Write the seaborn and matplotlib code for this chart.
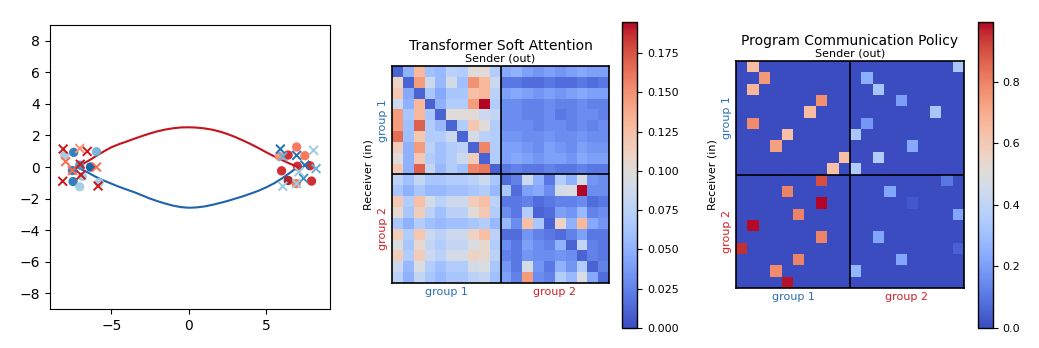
import numpy as np
import pandas as pd
import seaborn as sns
import matplotlib.pyplot as plt

# ---- panel 1: trajectories between the two clusters ----
red_x = [-7.2, -6.5, -6, -5.5, -5, -4.5, -4, -3.5, -3, -2.5, -2, -1.5, -1, -0.5, 0,
         0.5, 1, 1.5, 2, 2.5, 3, 3.5, 4, 4.5, 5, 5.5, 6, 6.5, 7]
red_y = [0.0, 0.38, 0.68, 0.98, 1.25, 1.45, 1.62, 1.8, 1.97, 2.13, 2.27, 2.38, 2.46, 2.51, 2.52,
         2.5, 2.45, 2.37, 2.25, 2.09, 1.9, 1.68, 1.45, 1.2, 0.93, 0.68, 0.45, 0.22, 0.02]
blue_x = [-7.2, -6.5, -6, -5.5, -5, -4.5, -4, -3.5, -3, -2.5, -2, -1.5, -1, -0.5, 0,
          0.5, 1, 1.5, 2, 2.5, 3, 3.5, 4, 4.5, 5, 5.5, 6, 6.5, 7]
blue_y = [0.0, -0.35, -0.62, -0.85, -1.05, -1.25, -1.43, -1.6, -1.8, -2.0, -2.17, -2.32, -2.45, -2.54, -2.58,
          -2.56, -2.5, -2.4, -2.28, -2.15, -2.0, -1.85, -1.68, -1.5, -1.28, -1.03, -0.72, -0.38, 0.0]

# circles (agents) and crosses (goals), shade = colour name
circ_x = [-8.0, -7.42, -5.95, -7.5, -7.03, -6.86, -6.34, -7.46, -7.03, -5.78,
          6.95, 5.83, 6.4, 7.48, 7.81, 7.0, 5.98, 6.41, 6.92, 7.91]
circ_y = [0.74, 0.93, 0.97, -0.22, 0.12, -0.6, 0.0, -0.92, -1.25, -0.98,
          1.27, 0.68, 0.76, 0.72, 0.08, 0.05, -0.24, -0.85, -1.05, -0.89]
circ_shade = ['b4', 'b1', 'b3', 'b1', 'b2', 'b4', 'b0', 'b1', 'b4', 'b4',
              'r3', 'r4', 'r1', 'r3', 'r1', 'r1', 'r1', 'r0', 'r3', 'r1']
cross_x = [-8.1, -7.03, -6.55, -7.94, -7.5, -7.0, -6.95, -5.95, -8.13, -5.85,
           5.9, 6.05, 6.95, 8.04, 7.48, 8.2, 7.1, 7.4, 6.95, 6.06]
cross_y = [1.14, 1.18, 0.99, 0.34, -0.22, 0.18, -0.5, 0.0, -0.9, -1.2,
           1.14, 0.66, 0.74, 1.06, 0.12, -0.1, -0.3, -0.72, -1.05, -1.22]
cross_shade = ['r1', 'r4', 'r1', 'r3', 'r3', 'r1', 'r1', 'r3', 'r1', 'r1',
               'b1', 'b3', 'b1', 'b4', 'b1', 'b3', 'b4', 'b2', 'b4', 'b4']
shades = {'b0': '#08519c', 'b1': '#2171b5', 'b2': '#4292c6', 'b3': '#6baed6', 'b4': '#9ecae1',
          'r0': '#a50f15', 'r1': '#cb181d', 'r2': '#ef3b2c', 'r3': '#fb6a4a', 'r4': '#fc9272'}

# ---- panel 2: soft attention, four 10x10 blocks ----
att_g1_g1 = [
    [0.010, 0.050, 0.130, 0.060, 0.055, 0.075, 0.070, 0.100, 0.100, 0.070],
    [0.110, 0.010, 0.145, 0.085, 0.055, 0.090, 0.060, 0.150, 0.130, 0.085],
    [0.120, 0.045, 0.010, 0.065, 0.045, 0.065, 0.065, 0.125, 0.130, 0.075],
    [0.085, 0.050, 0.130, 0.010, 0.050, 0.070, 0.070, 0.145, 0.195, 0.070],
    [0.145, 0.065, 0.130, 0.065, 0.010, 0.100, 0.100, 0.100, 0.085, 0.080],
    [0.145, 0.060, 0.170, 0.070, 0.055, 0.010, 0.070, 0.120, 0.100, 0.070],
    [0.165, 0.060, 0.120, 0.070, 0.070, 0.085, 0.010, 0.090, 0.075, 0.070],
    [0.115, 0.050, 0.145, 0.075, 0.060, 0.070, 0.075, 0.010, 0.155, 0.070],
    [0.100, 0.050, 0.120, 0.070, 0.060, 0.070, 0.085, 0.115, 0.010, 0.070],
    [0.120, 0.050, 0.170, 0.080, 0.055, 0.070, 0.060, 0.155, 0.160, 0.010],
]
att_g1_g2 = [
    [0.045, 0.050, 0.040, 0.035, 0.040, 0.035, 0.040, 0.045, 0.040, 0.040],
    [0.020, 0.020, 0.015, 0.015, 0.020, 0.015, 0.015, 0.020, 0.015, 0.020],
    [0.040, 0.045, 0.040, 0.035, 0.040, 0.035, 0.040, 0.045, 0.040, 0.040],
    [0.030, 0.030, 0.025, 0.025, 0.030, 0.025, 0.025, 0.030, 0.025, 0.025],
    [0.030, 0.030, 0.025, 0.025, 0.030, 0.020, 0.025, 0.030, 0.030, 0.025],
    [0.030, 0.030, 0.030, 0.025, 0.030, 0.030, 0.025, 0.030, 0.025, 0.030],
    [0.035, 0.035, 0.030, 0.030, 0.035, 0.030, 0.030, 0.035, 0.030, 0.030],
    [0.040, 0.040, 0.035, 0.030, 0.040, 0.035, 0.030, 0.040, 0.035, 0.035],
    [0.040, 0.045, 0.040, 0.035, 0.040, 0.040, 0.035, 0.045, 0.040, 0.040],
    [0.020, 0.025, 0.020, 0.020, 0.025, 0.020, 0.020, 0.025, 0.020, 0.020],
]
att_g2_g1 = [
    [0.075, 0.060, 0.080, 0.065, 0.065, 0.070, 0.070, 0.075, 0.085, 0.065],
    [0.065, 0.050, 0.065, 0.055, 0.055, 0.060, 0.060, 0.065, 0.070, 0.055],
    [0.120, 0.070, 0.125, 0.090, 0.075, 0.085, 0.085, 0.115, 0.125, 0.075],
    [0.105, 0.065, 0.115, 0.075, 0.060, 0.075, 0.075, 0.100, 0.120, 0.070],
    [0.065, 0.050, 0.070, 0.060, 0.055, 0.060, 0.060, 0.065, 0.070, 0.055],
    [0.115, 0.070, 0.120, 0.085, 0.075, 0.085, 0.085, 0.110, 0.125, 0.075],
    [0.095, 0.065, 0.105, 0.080, 0.070, 0.080, 0.080, 0.095, 0.105, 0.070],
    [0.115, 0.070, 0.115, 0.085, 0.075, 0.090, 0.090, 0.110, 0.105, 0.075],
    [0.085, 0.055, 0.095, 0.070, 0.060, 0.070, 0.070, 0.090, 0.095, 0.065],
    [0.075, 0.050, 0.080, 0.065, 0.055, 0.065, 0.065, 0.075, 0.080, 0.060],
]
att_g2_g2 = [
    [0.015, 0.025, 0.085, 0.050, 0.020, 0.070, 0.050, 0.090, 0.035, 0.030],
    [0.065, 0.015, 0.040, 0.045, 0.030, 0.090, 0.095, 0.195, 0.030, 0.030],
    [0.020, 0.020, 0.025, 0.015, 0.020, 0.025, 0.025, 0.030, 0.015, 0.020],
    [0.030, 0.020, 0.070, 0.010, 0.015, 0.040, 0.035, 0.055, 0.025, 0.030],
    [0.055, 0.030, 0.125, 0.065, 0.010, 0.110, 0.050, 0.130, 0.045, 0.035],
    [0.015, 0.015, 0.035, 0.025, 0.020, 0.015, 0.025, 0.040, 0.020, 0.020],
    [0.030, 0.020, 0.040, 0.030, 0.025, 0.050, 0.010, 0.080, 0.025, 0.020],
    [0.025, 0.020, 0.035, 0.030, 0.030, 0.035, 0.030, 0.010, 0.025, 0.020],
    [0.035, 0.020, 0.090, 0.035, 0.020, 0.050, 0.035, 0.070, 0.010, 0.025],
    [0.040, 0.025, 0.145, 0.030, 0.025, 0.070, 0.055, 0.095, 0.045, 0.015],
]

# ---- panel 3: program policy, non-zero cells only ----
pol_rows = [0, 1, 2, 3, 4, 5, 6, 7, 8, 9,
            0, 1, 2, 3, 4, 5, 6, 7, 8, 9,
            10, 11, 12, 13, 14, 15, 16, 17, 18, 19,
            10, 11, 12, 13, 15, 16, 17, 18]
pol_cols = [1, 2, 1, 7, 6, 1, 4, 3, 9, 8,
            19, 11, 12, 14, 17, 11, 10, 15, 12, 10,
            7, 4, 7, 5, 1, 7, 0, 5, 3, 4,
            18, 13, 15, 19, 12, 19, 14, 10]
pol_vals = [0.65, 0.75, 0.67, 0.77, 0.65, 0.78, 0.64, 0.73, 0.64, 0.63,
            0.33, 0.25, 0.32, 0.20, 0.33, 0.18, 0.33, 0.23, 0.35, 0.35,
            0.90, 0.80, 0.995, 0.80, 0.99, 0.80, 0.95, 0.80, 0.78, 0.98,
            0.10, 0.22, 0.03, 0.22, 0.22, 0.05, 0.22, 0.27]

group_labels = ['group 1', 'group 2']
group_colors = ['#2b6fb3', '#cf2027']

att = np.block([[np.array(att_g1_g1), np.array(att_g1_g2)],
                [np.array(att_g2_g1), np.array(att_g2_g2)]])
policy = np.zeros((20, 20))
policy[pol_rows, pol_cols] = pol_vals

fig = plt.figure(figsize=(10.39, 3.48), dpi=100)

# panel 1
ax1 = fig.add_axes([0.0481, 0.112, 0.2695, 0.816])
sns.lineplot(x=red_x, y=red_y, color='#c4131d', lw=1.5, ax=ax1, sort=False)
sns.lineplot(x=blue_x, y=blue_y, color='#1f63ab', lw=1.5, ax=ax1, sort=False)
pts = pd.DataFrame({'x': circ_x, 'y': circ_y, 'shade': circ_shade})
crs = pd.DataFrame({'x': cross_x, 'y': cross_y, 'shade': cross_shade})
sns.scatterplot(data=pts, x='x', y='y', hue='shade', palette=shades, s=45,
                edgecolor='none', alpha=0.9, legend=False, ax=ax1, zorder=3)
sns.scatterplot(data=crs, x='x', y='y', hue='shade', palette=shades, marker='x', s=40,
                linewidth=1.4, legend=False, ax=ax1, zorder=3)
ax1.set_xlim(-8.95, 9.1)
ax1.set_ylim(-9, 9)
ax1.set_yticks([-8, -6, -4, -2, 0, 2, 4, 6, 8])
ax1.set_xlabel('')
ax1.set_ylabel('')


def group_heatmap(mat, rect, cbar_rect, title):
    ax = fig.add_axes(rect)
    cax = fig.add_axes(cbar_rect)
    sns.heatmap(mat, ax=ax, cbar_ax=cax, cmap='coolwarm', vmin=0,
                xticklabels=False, yticklabels=False)
    for sp in ax.spines.values():
        sp.set_visible(True)
        sp.set_color('black')
        sp.set_linewidth(1.2)
    ax.axhline(10, color='black', lw=1.2)
    ax.axvline(10, color='black', lw=1.2)
    ax.set_xticks([5, 15])
    ax.set_xticklabels(group_labels, fontsize=8)
    ax.set_yticks([5, 15])
    ax.set_yticklabels(group_labels, fontsize=8, rotation=90, va='center')
    for lab, c in zip(ax.get_xticklabels(), group_colors):
        lab.set_color(c)
    for lab, c in zip(ax.get_yticklabels(), group_colors):
        lab.set_color(c)
    ax.tick_params(length=0, pad=3)
    ax.xaxis.set_label_position('top')
    ax.set_xlabel('Sender (out)', fontsize=8, labelpad=3.5)
    ax.set_ylabel('Receiver (in)', fontsize=8, labelpad=3)
    ax.set_title(title, fontsize=10, pad=2.5)
    cb = ax.collections[0].colorbar
    cb.outline.set_linewidth(1)
    cb.outline.set_edgecolor('black')
    cax.tick_params(labelsize=8)
    return ax


group_heatmap(att, [0.3773, 0.1868, 0.2089, 0.6236], [0.5987, 0.0575, 0.01444, 0.880],
              'Transformer Soft Attention')
ax3 = group_heatmap(policy, [0.7084, 0.1724, 0.2194, 0.6523], [0.9413, 0.0575, 0.01444, 0.880],
                    'Program Communication Policy')
ax3.collections[0].colorbar.ax.yaxis.set_major_formatter(plt.FormatStrFormatter('%.1f'))

fig.savefig('out.png', dpi=100)
